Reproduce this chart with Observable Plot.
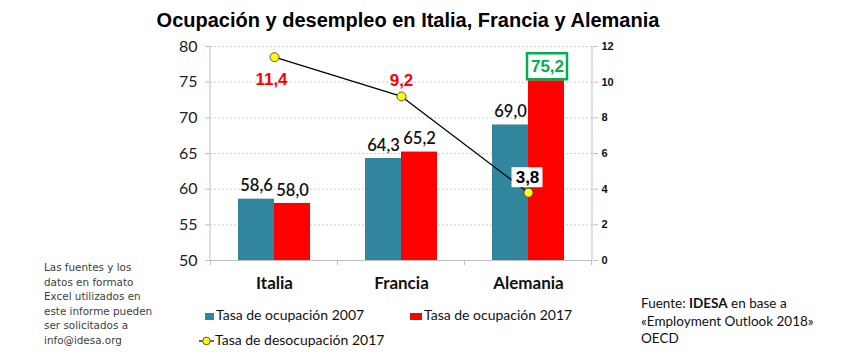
<!DOCTYPE html>
<html><head><meta charset="utf-8">
<script src="https://cdn.jsdelivr.net/npm/d3@7"></script>
<script src="https://cdn.jsdelivr.net/npm/@observablehq/plot@0.6"></script>
<style>
body{margin:0;background:#fff;}
#wrap{position:relative;width:843px;height:363px;overflow:hidden;background:#fff;}
#wrap svg.plotsvg{position:absolute;left:0;top:0;}
.t{position:absolute;white-space:nowrap;}
</style></head><body><div id="wrap"></div>
<script>
const categories = ["Italia", "Francia", "Alemania"];
const ocupacion2007 = [58.6, 64.3, 69.0];
const ocupacion2017 = [58.0, 65.2, 75.2];
const desocupacion2017 = [11.4, 9.2, 3.8];
const leftTicks = [50, 55, 60, 65, 70, 75, 80];
const rightTicks = [0, 2, 4, 6, 8, 10, 12];
const seriesNames = ["Tasa de ocupación 2007", "Tasa de ocupación 2017", "Tasa de desocupación 2017"];
const title = "Ocupación y desempleo en Italia, Francia y Alemania";
const noteLines = ["Las fuentes y los", "datos en formato", "Excel utilizados en", "este informe pueden", "ser solicitados a", "info@idesa.org"];
const sourceLines = ["Fuente: <b>IDESA</b> en base a", "«Employment Outlook 2018»", "OECD"];

const rows = categories.map((c, i) => ({cat: c, o07: ocupacion2007[i], o17: ocupacion2017[i], d17: desocupacion2017[i]}));

const TEAL = "#31859C", RED = "#FF0000", GREEN = "#00B050", YEL = "#FFFF00";
const CAL = "Lato, 'Open Sans', sans-serif";
const ARIAL = "'Liberation Sans', Arial, sans-serif";
const fmt = v => d3.format(".1f")(v).replace(".", ",");
const W = 843, H = 363;
const margins = {marginTop: 46, marginRight: 251, marginBottom: 103, marginLeft: 210};
const xOpts = {domain: categories, paddingInner: 0.717, paddingOuter: 0.3585, axis: null};
const HALF = 18;

function boxMark(cat, value, o) {
  return (index, scales) => {
    const bw = scales.x.bandwidth ? scales.x.bandwidth() : 0;
    const cx = scales.x(cat) + bw / 2 + o.dx;
    const cy = scales.y(value) + o.dy;
    return d3.create("svg:rect")
      .attr("x", cx - o.w / 2).attr("y", cy - o.h / 2)
      .attr("width", o.w).attr("height", o.h)
      .attr("fill", "white")
      .attr("stroke", o.stroke || "none")
      .attr("stroke-width", o.sw || 0).node();
  };
}
function frameLines(side, withTicks) {
  return (index, scales, values, dims) => {
    const g = d3.create("svg:g").attr("stroke", "#bfbfbf").attr("fill", "none");
    const x0 = dims.marginLeft, x1 = dims.width - dims.marginRight;
    const y0 = dims.marginTop, y1 = dims.height - dims.marginBottom;
    const xs = side === "left" ? x0 : x1;
    g.append("line").attr("x1", xs).attr("x2", xs).attr("y1", y0).attr("y2", y1);
    if (withTicks) {
      const step = scales.x.step ? scales.x.step() : (x1 - x0) / categories.length;
      const bw = scales.x.bandwidth ? scales.x.bandwidth() : 0;
      categories.forEach(c => {
        const xb = scales.x(c) + bw / 2 - step / 2;
        g.append("line").attr("x1", xb).attr("x2", xb).attr("y1", y1).attr("y2", y1 + 5);
      });
      const last = scales.x(categories[categories.length - 1]) + bw / 2 + step / 2;
      g.append("line").attr("x1", last).attr("x2", last).attr("y1", y1).attr("y2", y1 + 5);
    }
    return g.node();
  };
}

const main = Plot.plot({
  width: W, height: H, ...margins,
  style: {background: "transparent", overflow: "visible"},
  x: xOpts,
  y: {domain: [50, 80], axis: null},
  marks: [
    Plot.gridY(leftTicks, {stroke: "#cfcfcf", strokeOpacity: 1, strokeDasharray: "2,2"}),
    Plot.ruleY([50], {stroke: "#bfbfbf"}),
    frameLines("left", true),
    Plot.barY(rows, {x: "cat", y1: 50, y2: "o07", fill: TEAL, dx: -HALF}),
    Plot.barY(rows, {x: "cat", y1: 50, y2: "o17", fill: RED, dx: HALF}),
    Plot.text(rows, {x: "cat", y: "o07", text: d => fmt(d.o07), dx: -HALF, dy: -13, fontSize: 16.5, fontFamily: CAL, fontWeight: 600, fill: "#111"}),
    Plot.text(rows.slice(0, 2), {x: "cat", y: "o17", text: d => fmt(d.o17), dx: HALF, dy: -13, fontSize: 16.5, fontFamily: CAL, fontWeight: 600, fill: "#111"}),
    boxMark(categories[2], ocupacion2017[2], {dx: HALF + 1, dy: -14, w: 40, h: 26, stroke: GREEN, sw: 2.5}),
    Plot.text(rows.slice(2), {x: "cat", y: "o17", text: d => fmt(d.o17), dx: HALF + 1, dy: -14, fontSize: 17, fontFamily: ARIAL, fontWeight: "bold", fill: GREEN}),
    Plot.axisY({ticks: leftTicks, anchor: "left", tickSize: 5, tickPadding: 8, fontSize: 16, fontFamily: CAL, stroke: "#bfbfbf", fill: "#222", label: null}),
    Plot.axisX({tickSize: 0, tickPadding: 16, fontSize: 17, fontFamily: CAL, fontWeight: "bold", fill: "#111", label: null})
  ]
});
main.classList.add("plotsvg");

const overlay = Plot.plot({
  width: W, height: H, ...margins,
  style: {background: "transparent", overflow: "visible"},
  x: xOpts,
  y: {domain: [0, 12], axis: null},
  marks: [
    frameLines("right", false),
    Plot.line(rows, {x: "cat", y: "d17", stroke: "black", strokeWidth: 1.3}),
    boxMark(categories[2], desocupacion2017[2], {dx: -1, dy: -15, w: 31, h: 20}),
    Plot.dot(rows, {x: "cat", y: "d17", r: 4.5, fill: YEL, stroke: "#555", strokeWidth: 1}),
    Plot.text(rows.slice(0, 1), {x: "cat", y: "d17", text: d => fmt(d.d17), dx: -3, dy: 22, fontSize: 17, fontFamily: ARIAL, fontWeight: "bold", fill: RED}),
    Plot.text(rows.slice(1, 2), {x: "cat", y: "d17", text: d => fmt(d.d17), dy: -16, fontSize: 17, fontFamily: ARIAL, fontWeight: "bold", fill: RED}),
    Plot.text(rows.slice(2), {x: "cat", y: "d17", text: d => fmt(d.d17), dx: -1, dy: -15, fontSize: 17, fontFamily: ARIAL, fontWeight: "bold", fill: "#000"}),
    Plot.axisY({ticks: rightTicks, anchor: "right", tickSize: 5, tickPadding: 4, fontSize: 11, fontFamily: ARIAL, fontWeight: "bold", stroke: "#bfbfbf", fill: "#111", label: null})
  ]
});
overlay.classList.add("plotsvg");

const wrap = document.getElementById("wrap");
wrap.appendChild(main);
wrap.appendChild(overlay);

function addDiv(html, css) {
  const d = document.createElement("div");
  d.className = "t";
  d.innerHTML = html;
  Object.assign(d.style, css);
  wrap.appendChild(d);
  return d;
}
// title
addDiv(title, {left: "0px", width: "816px", textAlign: "center", top: "8px", lineHeight: "24px", fontFamily: ARIAL, fontWeight: "bold", fontSize: "20px", color: "#000"});

// legend
const legFont = {fontFamily: CAL, fontSize: "14px", color: "#111", lineHeight: "18px"};
addDiv(`<span style="display:inline-block;width:9px;height:7px;background:${TEAL};margin-right:2px;vertical-align:middle"></span>${seriesNames[0]}`, {left: "205px", top: "306px", ...legFont});
addDiv(`<span style="display:inline-block;width:12px;height:7px;background:${RED};margin-right:2px;vertical-align:middle"></span>${seriesNames[1]}`, {left: "410px", top: "306px", ...legFont});
addDiv(`<svg width="15" height="10" style="vertical-align:middle;margin-right:1px"><line x1="0" x2="15" y1="5" y2="5" stroke="black" stroke-width="1.2"/><circle cx="7.5" cy="5" r="3.8" fill="${YEL}" stroke="#555" stroke-width="1"/></svg>${seriesNames[2]}`, {left: "199px", top: "331px", ...legFont});

// left note
addDiv(noteLines.join("<br>"), {left: "44px", top: "260px", fontFamily: "'DejaVu Sans', sans-serif", fontSize: "10.4px", lineHeight: "14.6px", color: "#404040"});
// source
addDiv(sourceLines.join("<br>"), {left: "641px", top: "295px", fontFamily: CAL, fontSize: "13.5px", lineHeight: "17.5px", color: "#111"});
</script></body></html>
